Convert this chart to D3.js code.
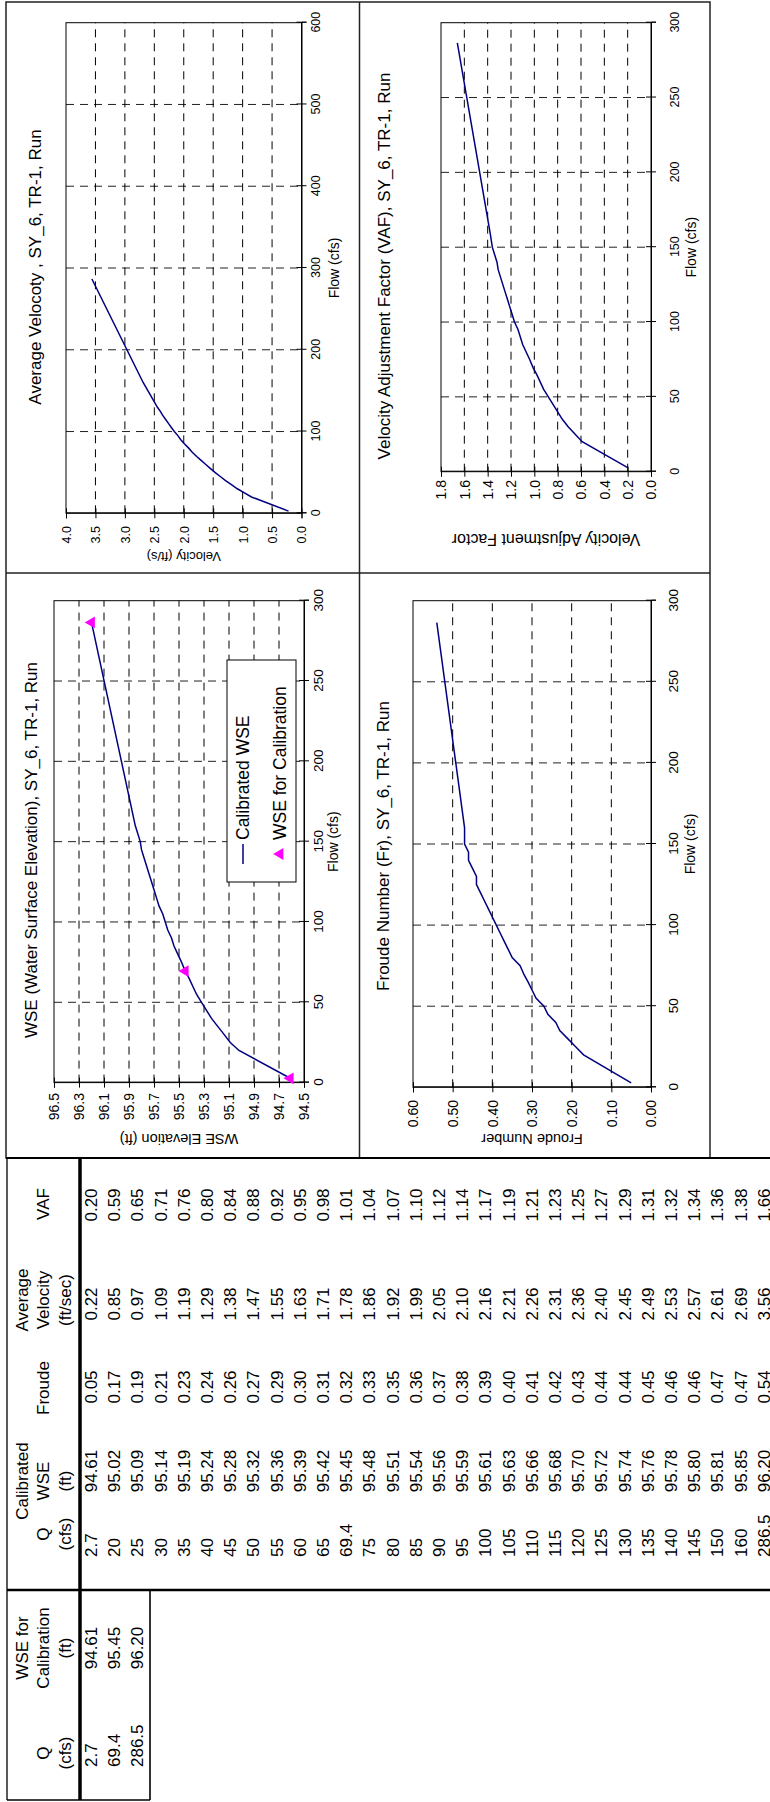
<!DOCTYPE html>
<html><head><meta charset="utf-8">
<script src="https://cdn.jsdelivr.net/npm/d3@7"></script>
<style>
html,body{margin:0;padding:0;background:#fff;}
svg{display:block;}
text{font-family: Arial, "Liberation Sans", sans-serif; fill:#000;}
</style></head><body>
<svg id="c" width="770" height="1802"></svg>
<script>
// ---------------- DATA ----------------
const Q = [2.7,20,25,30,35,40,45,50,55,60,65,69.4,75,80,85,90,95,100,105,110,115,120,125,130,135,140,145,150,160,286.5];
const calibratedWSE = [94.61,95.02,95.09,95.14,95.19,95.24,95.28,95.32,95.36,95.39,95.42,95.45,95.48,95.51,95.54,95.56,95.59,95.61,95.63,95.66,95.68,95.70,95.72,95.74,95.76,95.78,95.80,95.81,95.85,96.20];
const froude = [0.05,0.17,0.19,0.21,0.23,0.24,0.26,0.27,0.29,0.30,0.31,0.32,0.33,0.35,0.36,0.37,0.38,0.39,0.40,0.41,0.42,0.43,0.44,0.44,0.45,0.46,0.46,0.47,0.47,0.54];
const avgVelocity = [0.22,0.85,0.97,1.09,1.19,1.29,1.38,1.47,1.55,1.63,1.71,1.78,1.86,1.92,1.99,2.05,2.10,2.16,2.21,2.26,2.31,2.36,2.40,2.45,2.49,2.53,2.57,2.61,2.69,3.56];
const vaf = [0.20,0.59,0.65,0.71,0.76,0.80,0.84,0.88,0.92,0.95,0.98,1.01,1.04,1.07,1.10,1.12,1.14,1.17,1.19,1.21,1.23,1.25,1.27,1.29,1.31,1.32,1.34,1.36,1.38,1.66];
const calQ = [2.7,69.4,286.5];
const calWSE = [94.61,95.45,96.20];

const flowTicks300 = [0,50,100,150,200,250,300];
const flowTicks600 = [0,100,200,300,400,500,600];
const velTicks = [0,0.5,1.0,1.5,2.0,2.5,3.0,3.5,4.0];
const vafTicks = [0,0.2,0.4,0.6,0.8,1.0,1.2,1.4,1.6,1.8];
const wseTicks = [94.5,94.7,94.9,95.1,95.3,95.5,95.7,95.9,96.1,96.3,96.5];
const froudeTicks = [0,0.1,0.2,0.3,0.4,0.5,0.6];

// ---------------- SETUP (landscape frame rotated onto the page) ----------------
const svg = d3.select("#c");
const L = svg.append("g").attr("transform","translate(0,1802) rotate(-90)");
const FONT = 'Arial, "Liberation Sans", sans-serif';

function txt(g, x, y, s, size, anchor, rot){
  const t = g.append("text").attr("x",x).attr("y",y).attr("dy","0.35em")
    .attr("font-size",size).attr("text-anchor",anchor||"middle").text(s);
  if(rot) t.attr("transform",`rotate(${rot},${x},${y})`);
  return t;
}

function chart(o){
  const g = L.append("g");
  const x = d3.scaleLinear().domain(o.xDomain).range(o.xRange);
  const y = d3.scaleLinear().domain(o.yDomain).range(o.yRange);
  const [Yb,Yt] = o.yRange, [X0,X1] = o.xRange;
  // gridlines
  g.append("g").selectAll("line").data(o.xTicks.slice(1,-1)).join("line")
    .attr("x1",d=>x(d)).attr("x2",d=>x(d)).attr("y1",Yt).attr("y2",Yb)
    .attr("stroke","#222").attr("stroke-width",1).attr("stroke-dasharray","8,6");
  g.append("g").selectAll("line").data(o.yTicks.slice(1,-1)).join("line")
    .attr("y1",d=>y(d)).attr("y2",d=>y(d)).attr("x1",X0).attr("x2",X1)
    .attr("stroke","#000").attr("stroke-width",1).attr("stroke-dasharray","8,6");
  g.append("rect").attr("x",X0).attr("y",Yt).attr("width",X1-X0).attr("height",Yb-Yt)
    .attr("fill","none").attr("stroke","#000").attr("stroke-width",1);
  // x axis
  const ax = g.append("g").attr("transform",`translate(0,${Yb})`)
    .call(d3.axisBottom(x).tickValues(o.xTicks).tickSize(5).tickFormat(d3.format("d")));
  ax.select(".domain").attr("stroke","#000");
  ax.selectAll(".tick line").attr("y1",-5).attr("y2",5);
  ax.selectAll(".tick text").attr("y",o.xLabelY-Yb).attr("dy","0.35em")
    .attr("font-size",o.xTickSize).attr("font-family",FONT);
  // y axis
  const ay = g.append("g").attr("transform",`translate(${X0},0)`)
    .call(d3.axisLeft(y).tickValues(o.yTicks).tickSize(5).tickFormat(d3.format(o.yFmt)));
  ay.select(".domain").attr("stroke","#000");
  ay.selectAll(".tick line").attr("x1",5).attr("x2",-5);
  ay.selectAll(".tick text").attr("x",o.yLabelRight-X0).attr("dy","0.35em")
    .attr("font-size",o.yTickSize).attr("font-family",FONT);
  // titles
  txt(g, o.titleX, o.titleY, o.title, 17);
  txt(g, (X0+X1)/2, o.xTitleY, "Flow (cfs)", 14);
  txt(g, o.yTitleX, (Yb+Yt)/2, o.yTitle, o.yTitleSize, "middle", -90);
  // series
  const line = d3.line().x(d=>x(d[0])).y(d=>y(d[1]));
  g.append("path").datum(d3.zip(Q, o.values)).attr("d",line)
    .attr("fill","none").attr("stroke","#000080").attr("stroke-width",1.5);
  return {g,x,y};
}

// ---------------- CHARTS ----------------
chart({xDomain:[0,600], xRange:[1288.7,1779.3], yDomain:[0,4], yRange:[301.5,66],
  xTicks:flowTicks600, yTicks:velTicks, yFmt:".1f", values:avgVelocity,
  xLabelY:316, xTitleY:334, xTickSize:12.5, yTickSize:12.5, yLabelRight:1276,
  yTitleX:1245, yTitle:"Velocity (ft/s)", yTitleSize:13,
  title:"Average Velocoty , SY_6, TR-1, Run", titleX:1535, titleY:35});

chart({xDomain:[0,300], xRange:[1330.3,1779.3], yDomain:[0,1.8], yRange:[651,441],
  xTicks:flowTicks300, yTicks:vafTicks, yFmt:".1f", values:vaf,
  xLabelY:675, xTitleY:691, xTickSize:12.5, yTickSize:14, yLabelRight:1322,
  yTitleX:1262, yTitle:"Velocity Adjustment Factor", yTitleSize:16,
  title:"Velocity Adjustment Factor (VAF), SY_6, TR-1, Run", titleX:1536, titleY:384});

const wse = chart({xDomain:[0,300], xRange:[719.4,1201.3], yDomain:[94.5,96.5], yRange:[304,54],
  xTicks:flowTicks300, yTicks:wseTicks, yFmt:".1f", values:calibratedWSE,
  xLabelY:318, xTitleY:333, xTickSize:13.5, yTickSize:14, yLabelRight:709,
  yTitleX:663, yTitle:"WSE Elevation (ft)", yTitleSize:14.5,
  title:"WSE (Water Surface Elevation), SY_6, TR-1, Run", titleX:952, titleY:31});

chart({xDomain:[0,300], xRange:[714.7,1201.3], yDomain:[0,0.6], yRange:[651,413],
  xTicks:flowTicks300, yTicks:froudeTicks, yFmt:".2f", values:froude,
  xLabelY:673, xTitleY:690, xTickSize:13.5, yTickSize:14, yLabelRight:702,
  yTitleX:663, yTitle:"Froude Number", yTitleSize:14.5,
  title:"Froude Number (Fr), SY_6, TR-1, Run", titleX:956, titleY:383});

// calibration markers + legend on WSE chart
const tri = d3.symbol(d3.symbolTriangle, 60);
wse.g.append("g").selectAll("path").data(d3.zip(calQ, calWSE)).join("path")
  .attr("transform",d=>`translate(${wse.x(d[0])},${wse.y(d[1])})`)
  .attr("d",tri).attr("fill","#ff00ff");
const lg = wse.g.append("g");
lg.append("rect").attr("x",920).attr("y",227).attr("width",222).attr("height",69)
  .attr("fill","#fff").attr("stroke","#000").attr("stroke-width",1);
lg.append("line").attr("x1",938).attr("x2",958).attr("y1",243).attr("y2",243)
  .attr("stroke","#000080").attr("stroke-width",1.5);
lg.append("path").attr("transform","translate(948,280)").attr("d",tri).attr("fill","#ff00ff");
txt(lg, 962, 243, "Calibrated WSE", 17.5, "start");
txt(lg, 962, 280, "WSE for Calibration", 17.5, "start");

// chart panel borders
const B = L.append("g").attr("fill","none").attr("stroke","#222");
B.append("rect").attr("x",644).attr("y",6).attr("width",1156).attr("height",704).attr("stroke-width",1.5);
B.append("line").attr("x1",1229).attr("x2",1229).attr("y1",6).attr("y2",710).attr("stroke-width",1.5);
B.append("line").attr("x1",644).attr("x2",1800).attr("y1",359.5).attr("y2",359.5).attr("stroke-width",1.5);

// ---------------- TABLES ----------------
const T = L.append("g");
const rowY = i => 91 + 23.2*i;
const TF = 17;
// borders
const tl = (x1,y1,x2,y2,w)=>T.append("line").attr("x1",x1).attr("y1",y1).attr("x2",x2).attr("y2",y2)
  .attr("stroke","#000").attr("stroke-width",w);
tl(644,6,644,770,2.2);
tl(2,7,644,7,1.3);
tl(2,7,2,150,1.3);
tl(2,80,644,80,3.5);
tl(212,7,212,770,2.5);
tl(2,150,212,150,1.6);

// headers
const hdrLines = [22,43.5,65];
const headers = [
  {x:49, lines:[null,"Q","(cfs)"]},
  {x:154, lines:["WSE for","Calibration","(ft)"]},
  {x:268, lines:[null,"Q","(cfs)"]},
  {x:321, lines:["Calibrated","WSE","(ft)"]},
  {x:414, lines:[null,"Froude",null]},
  {x:502, lines:["Average","Velocity","(ft/sec)"]},
  {x:598, lines:[null,"VAF",null]}
];
headers.forEach(h=>h.lines.forEach((s,i)=>{ if(s) txt(T,h.x,hdrLines[i],s,TF); }));

// small table
calQ.forEach((v,i)=>txt(T,35,rowY(i),String(v),TF,"start"));
calWSE.forEach((v,i)=>txt(T,154,rowY(i),v.toFixed(2),TF));
// big table
Q.forEach((v,i)=>txt(T,245,rowY(i),String(v),TF,"start"));
calibratedWSE.forEach((v,i)=>txt(T,331,rowY(i),v.toFixed(2),TF));
froude.forEach((v,i)=>txt(T,415,rowY(i),v.toFixed(2),TF));
avgVelocity.forEach((v,i)=>txt(T,498,rowY(i),v.toFixed(2),TF));
vaf.forEach((v,i)=>txt(T,597,rowY(i),v.toFixed(2),TF));
</script>
</body></html>
